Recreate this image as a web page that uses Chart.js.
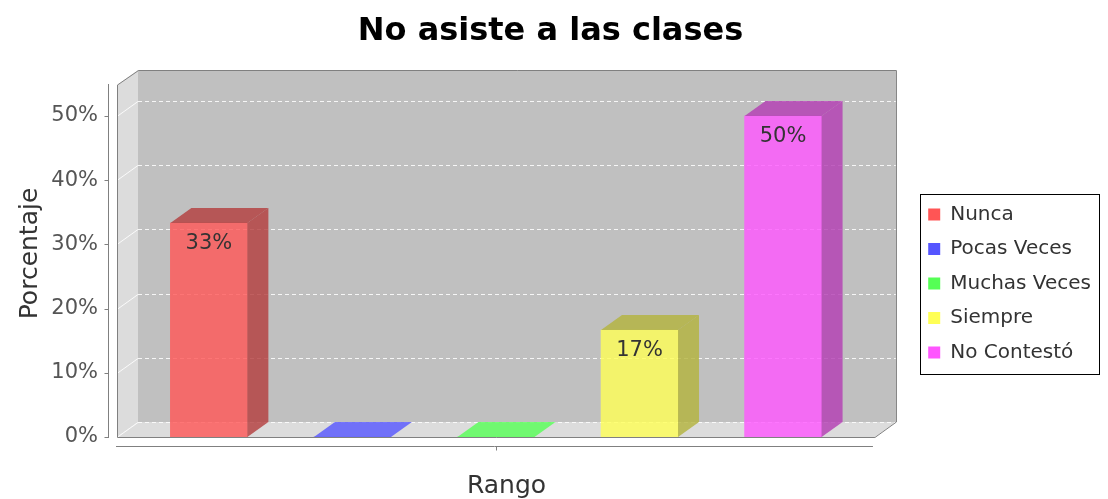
<!DOCTYPE html>
<html lang="es">
<head>
<meta charset="utf-8">
<title>No asiste a las clases</title>
<script src="https://cdn.jsdelivr.net/npm/chart.js@4.4.1/dist/chart.umd.min.js"></script>
<style>
  html, body { margin: 0; padding: 0; background: #fff; }
  #contenedor { width: 1108px; height: 499px; position: relative; }
</style>
</head>
<body>
<div id="contenedor"><canvas id="grafico"></canvas></div>
<script>
// Datos
const categorias = ['Nunca', 'Pocas Veces', 'Muchas Veces', 'Siempre', 'No Contestó'];
const porcentajes = [33.33, 0, 0, 16.67, 50];
const valoresEje = [0, 10, 20, 30, 40, 50];

const colores = ['#ff5555', '#5555ff', '#55ff55', '#ffff55', '#ff55ff'];
const FUENTE = "'DejaVu Sans', sans-serif";
const PROF_X = 21, PROF_Y = 15;   // profundidad del efecto 3D
const MARGEN_X = 0.64;            // espacio a los lados de las barras (unidades del eje x)

function rgba(hex, a, f = 1) {
    const n = parseInt(hex.slice(1), 16);
    const r = Math.round(((n >> 16) & 255) * f);
    const g = Math.round(((n >> 8) & 255) * f);
    const b = Math.round((n & 255) * f);
    return `rgba(${r},${g},${b},${a})`;
}

function poligono(ctx, puntos, relleno) {
    ctx.beginPath();
    puntos.forEach(([px, py], i) => i ? ctx.lineTo(px, py) : ctx.moveTo(px, py));
    ctx.closePath();
    ctx.fillStyle = relleno;
    ctx.fill();
}

function bordeDerecho(chart) {
    return chart.scales.x.getPixelForValue(categorias.length - 1 + MARGEN_X);
}

// Paredes, piso, cuadrícula y ejes del gráfico 3D
const fondo3D = {
    id: 'fondo3D',
    afterLayout(chart) {
        // el título "Rango" se centra bajo el área 3D, no bajo todo el eje
        chart.scales.x.right = bordeDerecho(chart) + PROF_X;
    },
    beforeDatasetsDraw(chart) {
        const { ctx, chartArea: a, scales: { y } } = chart;
        const izq = a.left;
        const der = bordeDerecho(chart);
        const arriba = a.top + PROF_Y, abajo = a.bottom;
        ctx.save();
        poligono(ctx, [[izq, arriba], [izq + PROF_X, a.top], [izq + PROF_X, abajo - PROF_Y], [izq, abajo]], '#dcdcdc');
        poligono(ctx, [[izq, abajo], [izq + PROF_X, abajo - PROF_Y], [der + PROF_X, abajo - PROF_Y], [der, abajo]], '#dcdcdc');
        ctx.fillStyle = '#c0c0c0';
        ctx.fillRect(izq + PROF_X, a.top, der - izq, abajo - PROF_Y - a.top);

        ctx.strokeStyle = 'rgba(255,255,255,0.85)';
        ctx.lineWidth = 1;
        valoresEje.forEach(v => {
            const py = Math.round(y.getPixelForValue(v)) + 0.5;
            ctx.setLineDash([4, 3]);
            ctx.beginPath();
            ctx.moveTo(izq + PROF_X, py - PROF_Y);
            ctx.lineTo(der + PROF_X, py - PROF_Y);
            ctx.stroke();
            ctx.setLineDash([]);
            ctx.beginPath();
            ctx.moveTo(izq, py);
            ctx.lineTo(izq + PROF_X, py - PROF_Y);
            ctx.stroke();
        });

        // contorno del área
        ctx.strokeStyle = '#808080';
        ctx.beginPath();
        ctx.moveTo(izq + 0.5, abajo + 0.5);
        ctx.lineTo(izq + 0.5, arriba);
        ctx.lineTo(izq + PROF_X + 0.5, a.top + 0.5);
        ctx.lineTo(der + PROF_X + 0.5, a.top + 0.5);
        ctx.lineTo(der + PROF_X + 0.5, abajo - PROF_Y);
        ctx.lineTo(der, abajo + 0.5);
        ctx.closePath();
        ctx.stroke();

        // ejes separados del área
        const ejeV = izq - 9 + 0.5, ejeH = abajo + 9 + 0.5;
        ctx.beginPath();
        ctx.moveTo(ejeV, arriba - 1);
        ctx.lineTo(ejeV, abajo + 1);
        valoresEje.forEach(v => {
            const py = Math.round(y.getPixelForValue(v)) + 0.5;
            ctx.moveTo(ejeV - 4, py);
            ctx.lineTo(ejeV, py);
        });
        ctx.moveTo(izq - 1, ejeH);
        ctx.lineTo(der - 2, ejeH);
        const centro = Math.round((izq + der) / 2) + 0.5;
        ctx.moveTo(centro, ejeH);
        ctx.lineTo(centro, ejeH + 4);
        ctx.stroke();
        ctx.restore();
    }
};

// Caras lateral y superior de cada barra, y su etiqueta
const caras3D = {
    id: 'caras3D',
    afterDatasetsDraw(chart) {
        const { ctx } = chart;
        ctx.save();
        chart.data.datasets.forEach((ds, i) => {
            chart.getDatasetMeta(i).data.forEach((barra, j) => {
                const { x, y, base, width } = barra.getProps(['x', 'y', 'base', 'width'], true);
                const l = x - width / 2, r = x + width / 2;
                const valor = ds.data[j].y;
                const oscuro = rgba(colores[i], 0.8, 0.7);
                if (valor > 0) {
                    poligono(ctx, [[r, y], [r + PROF_X, y - PROF_Y], [r + PROF_X, base - PROF_Y], [r, base]], oscuro);
                }
                poligono(ctx, [[l, y], [l + PROF_X, y - PROF_Y], [r + PROF_X, y - PROF_Y], [r, y]],
                    valor > 0 ? oscuro : rgba(colores[i], 0.8));
                if (valor > 0) {
                    ctx.fillStyle = '#333';
                    ctx.font = `21px ${FUENTE}`;
                    ctx.textAlign = 'center';
                    ctx.textBaseline = 'middle';
                    ctx.fillText(Math.round(valor) + '%', x, y + 21);
                }
            });
        });
        ctx.restore();
    }
};

// Marco negro alrededor de la leyenda
const marcoLeyenda = {
    id: 'marcoLeyenda',
    afterDraw(chart) {
        const cajas = chart.legend.legendHitBoxes;
        if (!cajas || !cajas.length) return;
        const izq = Math.min(...cajas.map(c => c.left)) - 8;
        const der = Math.max(...cajas.map(c => c.left + c.width)) + 8;
        const arr = cajas[0].top - 11;
        const ult = cajas[cajas.length - 1];
        const ab = ult.top + ult.height + 11;
        const ctx = chart.ctx;
        ctx.save();
        ctx.strokeStyle = '#000';
        ctx.lineWidth = 1;
        ctx.strokeRect(Math.round(izq) + 0.5, Math.round(arr) + 0.5, Math.round(der - izq), Math.round(ab - arr));
        ctx.restore();
    }
};

new Chart(document.getElementById('grafico'), {
    type: 'bar',
    data: {
        datasets: categorias.map((c, i) => ({
            label: c,
            data: [{ x: i, y: porcentajes[i] }],
            backgroundColor: rgba(colores[i], 0.8),
            borderWidth: 0,
            barThickness: 77,
            grouped: false
        }))
    },
    options: {
        responsive: true,
        maintainAspectRatio: false,
        animation: false,
        events: [],
        layout: { padding: { right: 7 } },
        plugins: {
            title: {
                display: true,
                text: 'No asiste a las clases',
                color: '#000',
                font: { family: FUENTE, size: 32, weight: 'bold' },
                padding: { top: 12, bottom: 19.6 }
            },
            legend: {
                position: 'right',
                title: { display: true, text: ' ', font: { size: 10 }, padding: { top: 56, bottom: 0 } },
                labels: {
                    boxWidth: 12,
                    boxHeight: 12,
                    padding: 14.5,
                    color: '#333',
                    font: { family: FUENTE, size: 20 },
                    generateLabels: chart => chart.data.datasets.map((ds, i) => ({
                        text: ds.label,
                        fillStyle: colores[i],
                        strokeStyle: colores[i],
                        lineWidth: 0,
                        hidden: false,
                        datasetIndex: i,
                        fontColor: '#333'
                    }))
                }
            },
            tooltip: { enabled: false }
        },
        scales: {
            x: {
                type: 'linear',
                offset: false,
                min: -MARGEN_X,
                max: 4.91,
                grid: { display: false },
                border: { display: false },
                ticks: { display: false },
                title: {
                    display: true,
                    text: 'Rango',
                    color: '#333',
                    font: { family: FUENTE, size: 25, lineHeight: 1 },
                    padding: { top: 0, bottom: 0 }
                },
                afterFit: s => { s.height = 62; }
            },
            y: {
                min: 0,
                max: 57.17,
                grid: { display: false },
                border: { display: false },
                afterBuildTicks: s => { s.ticks = valoresEje.map(v => ({ value: v })); },
                ticks: {
                    padding: 11,
                    color: '#555',
                    font: { family: FUENTE, size: 21 },
                    callback: v => v + '%'
                },
                title: {
                    display: true,
                    text: 'Porcentaje',
                    color: '#333',
                    font: { family: FUENTE, size: 25, lineHeight: 1 },
                    padding: { top: 17.5, bottom: 0 }
                },
                afterFit: s => { s.width = 117; }
            }
        }
    },
    plugins: [fondo3D, caras3D, marcoLeyenda]
});
</script>
</body>
</html>
